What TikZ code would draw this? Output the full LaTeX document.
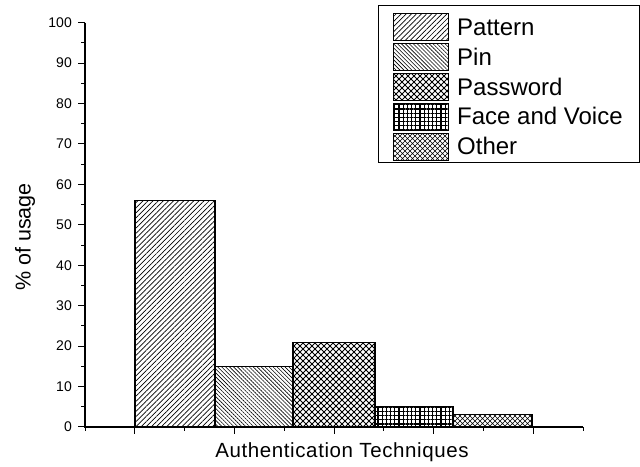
\documentclass[tikz,border=0pt]{standalone}
\usepackage{fontspec}
\setmainfont{Liberation Sans}
\newfontfamily\spacedfont[LetterSpace=3]{Liberation Sans}
\usetikzlibrary{patterns,patterns.meta}

\pgfdeclarepatternformonly{pwd}{\pgfpoint{-0.5pt}{-0.5pt}}{\pgfpoint{6.5pt}{6.5pt}}{\pgfpoint{6pt}{6pt}}{
  \pgfsetlinewidth{0.75pt}
  \pgfpathmoveto{\pgfpoint{0pt}{0pt}}\pgfpathlineto{\pgfpoint{6pt}{6pt}}
  \pgfpathmoveto{\pgfpoint{0pt}{6pt}}\pgfpathlineto{\pgfpoint{6pt}{0pt}}
  \pgfusepath{stroke}
  \pgfpathrectangle{\pgfpoint{1.8pt}{1.8pt}}{\pgfpoint{2.4pt}{2.4pt}}
  \pgfusepath{fill}
}
\pgfdeclarepatternformonly{oth}{\pgfpoint{-0.5pt}{-0.5pt}}{\pgfpoint{5.5pt}{5.5pt}}{\pgfpoint{5pt}{5pt}}{
  \pgfsetlinewidth{0.6pt}
  \pgfpathmoveto{\pgfpoint{0pt}{0pt}}\pgfpathlineto{\pgfpoint{5pt}{5pt}}
  \pgfpathmoveto{\pgfpoint{0pt}{5pt}}\pgfpathlineto{\pgfpoint{5pt}{0pt}}
  \pgfusepath{stroke}
  \pgfpathrectangle{\pgfpoint{1.6pt}{1.6pt}}{\pgfpoint{1.8pt}{1.8pt}}
  \pgfusepath{fill}
}

\tikzset{
  axisline/.style={line width=1.3pt},
  barbox/.style={draw=black,line width=1.1pt},
  swatch/.style={draw=black,line width=1pt},
  patA/.style={pattern={Lines[angle=45,distance=3.6pt,line width=0.7pt]}},
  patB/.style={pattern={Lines[angle=-45,distance=2.8pt,line width=0.6pt]}},
  patC/.style={pattern=pwd},
  patD/.style={pattern={Hatch[angle=0,distance=4.2pt,line width=1.1pt]}},
  patE/.style={pattern=oth},
  ticklab/.style={anchor=east,font=\fontsize{14}{14}\selectfont,inner sep=0pt},
  legtext/.style={anchor=base west,font=\fontsize{24}{24}\selectfont,inner sep=0pt},
}

\begin{document}
\begin{tikzpicture}[x=1pt,y=1pt]
\useasboundingbox (0,0) rectangle (640,466);

\begin{scope}[shift={(85,39)},y=4.043pt]
  % bars
  \path[barbox,patA] (50,0) rectangle (130,56);
  \path[barbox,patB] (130,0) rectangle (208,15);
  \path[barbox,patC] (208,0) rectangle (290,21);
  \path[barbox,patD] (290,0) rectangle (368,5);
  \path[barbox,patE] (368,0) rectangle (447,3);
  % axes
  \coordinate (o) at (0,0);
  \coordinate (ytop) at (0,100);
  \coordinate (xend) at (498,0);
  \draw[axisline] (ytop) -- (o) -- (xend);
  % y ticks
  \foreach \v in {0,10,...,100} {
    \draw[line width=1pt] (0,\v) -- (-7,\v);
    \node[ticklab] (yl\v) at (-13,\v) {\v};
  }
  \foreach \v in {5,15,...,95} {
    \draw[line width=1pt] (0,\v) -- (-4,\v);
  }
  % x ticks
  \foreach \i in {0,2,4,6,8,10} {
    \draw[line width=1pt] (\i*49.8,0) -- ++(0,-4pt);
  }
  \foreach \i in {1,3,5,7,9} {
    \draw[line width=1pt] (\i*49.8,0) -- ++(0,-7pt);
  }
\end{scope}

% axis titles
\node[font=\spacedfont\fontsize{20.5}{21}\selectfont,inner sep=0pt] (xt) at (342,14) {Authentication Techniques};
\node[font=\fontsize{21.5}{22}\selectfont,inner sep=0pt,rotate=90] (yt) at (25,229) {\% of usage};

% legend
\draw[line width=1pt] (378,460) rectangle (639,303);
\foreach \k/\lab/\p in {0/Pattern/patA,1/Pin/patB,2/Password/patC,3/Face and Voice/patD,4/Other/patE} {
  \path[swatch,\p] (393,452-29.8*\k) rectangle (448,425-29.8*\k);
  \node[legtext] (lg\k) at (457,430.5-29.8*\k) {\lab};
}
\end{tikzpicture}
\end{document}
